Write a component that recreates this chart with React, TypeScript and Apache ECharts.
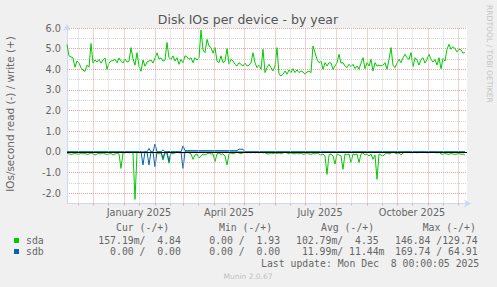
import React, { useEffect, useRef } from 'react';
import * as echarts from 'echarts';

// ---------- data ----------
const STEP_DAYS = 2; // one sample every 2 days, day 0 = 5 Nov 2024
const X_MAX_DAYS = 400;
const Y_MIN = -2.5;
const Y_MAX = 6.0;

const monthStartDays = [26, 57, 88, 116, 147, 177, 208, 238, 269, 300, 330, 361, 391];
const midMonthDays = [11, 41, 72, 103, 131, 162, 192, 223, 253, 284, 315, 345, 376];
const xLabelDays = [72, 162, 253, 345];
const xLabels = ['January 2025', 'April 2025', 'July 2025', 'October 2025'];

// sda writes (+)
const sdaWrite = [
  5.2, 4.65, 4.6, 4.55, 4.1, 4.4, 4.3, 4.08, 3.95, 3.9,
  4.2, 4.1, 5.25, 4.3, 4.45, 4.35, 4.48, 4.3, 4.45, 4.55,
  4.0, 4.3, 4.4, 4.42, 4.48, 4.32, 4.55, 4.4, 4.3, 4.5,
  4.35, 4.4, 5.05, 4.5, 4.2, 4.8, 4.15, 3.9, 4.45, 4.15,
  4.35, 4.4, 4.45, 4.3, 4.55, 4.8, 4.5, 4.55, 4.4, 4.45,
  5.3, 4.56, 4.48, 4.65, 4.4, 4.56, 4.24, 4.48, 4.32, 4.65,
  4.6, 4.48, 4.56, 4.32, 4.56, 4.45, 4.56, 5.9, 4.94, 4.81,
  5.45, 5.13, 5.05, 4.78, 5.05, 4.4, 4.32, 4.65, 4.32, 4.4,
  5.0, 4.25, 4.48, 4.4, 4.24, 4.16, 4.32, 4.24, 4.16, 4.3,
  4.16, 4.2, 4.32, 4.8, 4.32, 4.08, 4.2, 4.0, 4.97, 3.84,
  4.08, 4.24, 4.08, 3.92, 4.16, 5.05, 3.76, 3.68, 3.76, 3.92,
  3.76, 3.97, 3.84, 4.03, 3.84, 3.97, 3.84, 3.92, 3.87, 3.76,
  3.87, 3.92, 3.84, 5.13, 4.81, 4.48, 4.32, 4.4, 4.0, 4.32,
  4.16, 4.32, 4.3, 4.0, 4.16, 4.32, 4.73, 4.3, 4.32, 4.16,
  4.08, 4.24, 4.13, 4.24, 4.03, 4.16, 4.0, 4.3, 4.56, 4.03,
  4.32, 4.16, 4.48, 3.92, 4.32, 4.16, 4.2, 4.16, 4.2, 4.32,
  4.0, 4.48, 5.05, 4.2, 4.08, 4.3, 4.48, 4.32, 4.56, 4.73,
  4.56, 4.48, 4.81, 4.13, 4.56, 4.45, 4.2, 4.48, 4.56, 4.3,
  4.48, 4.73, 4.48, 4.35, 4.48, 4.2, 4.56, 4.03, 4.52, 4.4,
  4.97, 5.21, 4.97, 5.1, 5.0, 4.84, 4.97, 4.94, 4.78, 4.84,
];

// sda reads (-), stored as positive rates
const sdaRead = [
  0.05, 0.1, 0.12, 0.1, 0.08, 0.1, 0.12, 0.05, 0.1, 0.08,
  0.12, 0.1, 0.05, 0.1, 0.15, 0.1, 0.08, 0.1, 0.05, 0.1,
  0.12, 0.1, 0.08, 0.15, 0.1, 0.05, 0.1, 0.8, 0.05, 0.05,
  0, 0.05, 0.02, 0.05, 2.3, 0.05, 0, 0.02, 0.05, 0,
  0.05, 0.03, 0, 0.05, 0.02, 0.05, 0.1, 0.05, 0.4, 0.05,
  0.1, 0.55, 0.05, 0.1, 0.05, 0, 0.05, 0.02, 0.05, 0,
  0.02, 0.05, 0.1, 0.36, 0.15, 0.1, 0.3, 0.2, 0.1, 0.15,
  0.1, 0.05, 0.1, 0.1, 0.47, 0.1, 0.05, 0.12, 0.1, 0.2,
  0.63, 0.1, 0.05, 0.1, 0.05, 0.02, 0.05, 0.1, 0.05, 0,
  0.05, 0.02, 0.05, 0, 0.05, 0.02, 0.05, 0, 0.05, 0.03,
  0.1, 0.1, 0.05, 0.1, 0.05, 0.08, 0.05, 0.1, 0.05, 0.02,
  0.05, 0.1, 0.05, 0.08, 0.1, 0.05, 0.1, 0.05, 0.12, 0.1,
  0.05, 0.1, 0.12, 0.08, 0.1, 0.05, 0.1, 0.15, 0.1, 0.2,
  1.09, 0.15, 0.1, 0.2, 0.59, 0.1, 0.15, 0.2, 0.84, 0.1,
  0.15, 0.1, 0.52, 0.1, 0.15, 0.1, 0.52, 0.1, 0.05, 0.15,
  0.1, 0.2, 0.1, 0.36, 0.15, 1.33, 0.1, 0.15, 0.2, 0.1,
  0.05, 0.1, 0.05, 0.02, 0.05, 0.1, 0.05, 0.15, 0.05, 0.02,
  0, 0.02, 0.05, 0, 0.02, 0.05, 0, 0.03, 0, 0.02,
  0.05, 0, 0.02, 0, 0.03, 0.05, 0.02, 0.1, 0.12, 0.08,
  0.1, 0.12, 0.08, 0.1, 0.12, 0.1, 0.08, 0.12, 0.1, 0.16,
];

// sdb writes (+)
const sdbWrite = [
  0, 0, 0, 0, 0, 0, 0, 0, 0, 0,
  0, 0, 0, 0, 0, 0, 0, 0, 0, 0,
  0, 0, 0, 0, 0, 0, 0, 0, 0, 0,
  0, 0, 0, 0, 0, 0, 0, 0, 0, 0,
  0, 0.17, 0, 0, 0.38, 0, 0, 0, 0.1, 0,
  0, 0.02, 0, 0, 0, 0, 0, 0, 0.29, 0.06,
  0.06, 0.06, 0.06, 0.06, 0.06, 0.06, 0.06, 0.06, 0.06, 0.06,
  0.06, 0.06, 0.06, 0.06, 0.06, 0.06, 0.06, 0.06, 0.06, 0.06,
  0.06, 0.06, 0.06, 0.06, 0.06, 0.06, 0.13, 0.13, 0.13, 0,
  0, 0, 0, 0, 0, 0, 0, 0, 0, 0,
  0, 0, 0, 0, 0, 0, 0, 0, 0, 0,
  0, 0, 0, 0, 0, 0, 0, 0, 0, 0,
  0, 0, 0, 0, 0, 0, 0, 0, 0, 0,
  0, 0, 0, 0, 0, 0, 0, 0, 0, 0,
  0, 0, 0, 0, 0, 0, 0, 0, 0, 0,
  0, 0, 0, 0, 0, 0, 0, 0, 0, 0,
  0, 0, 0, 0, 0, 0, 0, 0, 0, 0,
  0, 0, 0, 0, 0, 0, 0, 0, 0, 0,
  0, 0, 0, 0, 0, 0, 0, 0, 0, 0,
  0, 0, 0, 0, 0, 0, 0, 0, 0, 0,
];

// sdb reads (-), stored as positive rates
const sdbRead = [
  0, 0, 0, 0, 0, 0, 0, 0, 0, 0,
  0, 0, 0, 0, 0, 0, 0, 0, 0, 0,
  0, 0, 0, 0, 0, 0, 0, 0, 0, 0,
  0, 0, 0, 0, 0, 0, 0, 0, 0.63, 0,
  0, 0.63, 0, 0, 0.72, 0, 0, 0, 0.31, 0,
  0, 0.47, 0, 0, 0, 0, 0, 0, 0.8, 0,
  0, 0, 0, 0, 0, 0, 0, 0, 0, 0,
  0, 0, 0, 0, 0, 0, 0, 0, 0, 0,
  0, 0, 0, 0, 0, 0, 0, 0, 0, 0,
  0, 0, 0, 0, 0, 0, 0, 0, 0, 0,
  0, 0, 0, 0, 0, 0, 0, 0, 0, 0,
  0, 0, 0, 0, 0, 0, 0, 0, 0, 0,
  0, 0, 0, 0, 0, 0, 0, 0, 0, 0,
  0, 0, 0, 0, 0, 0, 0, 0, 0, 0,
  0, 0, 0, 0, 0, 0, 0, 0, 0, 0,
  0, 0, 0, 0, 0, 0, 0, 0, 0, 0,
  0, 0, 0, 0, 0, 0, 0, 0, 0, 0,
  0, 0, 0, 0, 0, 0, 0, 0, 0, 0,
  0, 0, 0, 0, 0, 0, 0, 0, 0, 0,
  0, 0, 0, 0, 0, 0, 0, 0, 0, 0,
];

const statHeaders = ['Cur (-/+)', 'Min (-/+)', 'Avg (-/+)', 'Max (-/+)'];
const deviceNames = ['sda', 'sdb'];
const sdaStats = [['157.19m', '4.84'], ['0.00', '1.93'], ['102.79m', '4.35'], ['146.84', '129.74']];
const sdbStats = [['0.00', '0.00'], ['0.00', '0.00'], ['11.99m', '11.44m'], ['169.74', '64.91']];
const titleText = 'Disk IOs per device - by year';
const yAxisTitle = 'IOs/second read (-) / write (+)';
const lastUpdateText = 'Last update: Mon Dec  8 00:00:05 2025';
const watermarkText = 'RRDTOOL / TOBI OETIKER';
const versionText = 'Munin 2.0.67';

// ---------- styles ----------
const GREEN = '#00CC00';
const BLUE = '#0066B3';
const FONT = 'DejaVu Sans';
const MONO = 'DejaVu Sans Mono';
const TXT = '#666666';
const CW = 5.9; // monospace advance
const cellStarts = [98.3, 197.5, 296, 395];
const headerStarts = [116, 219, 321, 422.7];

function padCell(s: string) {
  const m = s.endsWith('m');
  const num = m ? s.slice(0, -1) : s;
  return num.padStart(6, ' ') + (m ? 'm' : ' ');
}
function cellText(pair: string[]) {
  const full = (padCell(pair[0]) + '/' + padCell(pair[1])).replace(/\s+$/, '');
  const trimmed = full.replace(/^\s+/, '');
  return { text: trimmed, lead: full.length - trimmed.length };
}

const toPoints = (arr: number[], sign: number) => arr.map((v, i) => [i * STEP_DAYS, sign * v]);

export default function App() {
  const ref = useRef<HTMLDivElement>(null);
  useEffect(() => {
    if (!ref.current) return;
    const chart = echarts.init(ref.current, undefined, { renderer: 'svg' });

    const graphics: any[] = [];
    const txt = (x: number, y: number, text: string, o: any = {}) => ({
      type: 'text', x, y, rotation: o.rotation || 0, silent: true,
      style: {
        text, fill: o.fill || TXT, fontSize: o.fontSize || 9.8, fontFamily: o.fontFamily || MONO,
        align: o.align || 'left', verticalAlign: 'middle',
      },
    });
    graphics.push(txt(248, 19, titleText, { align: 'center', fontSize: 12.5, fontFamily: FONT, fill: '#555555' }));
    graphics.push(txt(10, 114, yAxisTitle, { align: 'center', fontSize: 10.4, fontFamily: FONT, rotation: Math.PI / 2 }));
    graphics.push(txt(489, 5, watermarkText, { fontSize: 7.6, fontFamily: FONT, fill: '#c4c4c4', rotation: -Math.PI / 2 }));
    statHeaders.forEach((h, i) => graphics.push(txt(headerStarts[i], 227.5, h)));
    const rows = [
      { name: deviceNames[0], color: GREEN, stats: sdaStats, y: 240 },
      { name: deviceNames[1], color: BLUE, stats: sdbStats, y: 251.7 },
    ];
    rows.forEach((r) => {
      graphics.push({ type: 'rect', silent: true, shape: { x: 14, y: Math.round(r.y - 2.3), width: 5, height: 5 }, style: { fill: r.color } });
      graphics.push(txt(26, r.y, r.name));
      r.stats.forEach((pair, i) => {
        const c = cellText(pair);
        graphics.push(txt(cellStarts[i] + c.lead * CW, r.y, c.text));
      });
    });
    graphics.push(txt(261, 263.5, lastUpdateText));
    graphics.push(txt(248, 276, versionText, { align: 'center', fontSize: 7.5, fontFamily: FONT, fill: '#c0c0c0' }));

    const gridLines = [
      ...midMonthDays.map((d) => ({ xAxis: d, lineStyle: { color: '#D4D4D4', type: [1, 1], width: 1 } })),
      ...monthStartDays.map((d) => ({ xAxis: d, lineStyle: { color: '#E8A0A0', type: [1, 1], width: 1 } })),
    ];

    const lineSeries = (name: string, data: number[][], color: string, z: number) => ({
      name, type: 'line', data, showSymbol: false, symbol: 'none', silent: true, z,
      lineStyle: { color, width: 1 }, itemStyle: { color }, emphasis: { disabled: true },
    });

    chart.setOption({
      animation: false,
      backgroundColor: '#F0F0F0',
      textStyle: { fontFamily: FONT },
      grid: {
        left: 67, right: 30, top: 28, height: 175.5, show: true, backgroundColor: '#FFFFFF',
        borderWidth: 0, containLabel: false, outerBoundsMode: 'none',
      },
      xAxis: {
        type: 'value', min: 0, max: X_MAX_DAYS,
        axisLine: {
          show: true, onZero: false, lineStyle: { color: '#CFD6F8', width: 1 },
          symbol: ['none', 'arrow'], symbolSize: [6, 7], symbolOffset: [0, 4],
        },
        axisTick: {
          show: true, customValues: [...midMonthDays, ...monthStartDays].sort((a, b) => a - b),
          length: 2, lineStyle: { color: '#E0B0B0' },
        },
        axisLabel: {
          customValues: xLabelDays,
          formatter: (v: number) => xLabels[xLabelDays.indexOf(v)] ?? '',
          fontSize: 9.7, color: TXT, fontFamily: FONT, margin: 4,
        },
        splitLine: { show: false },
      },
      yAxis: {
        type: 'value', min: Y_MIN, max: Y_MAX, interval: 0.5,
        axisLine: {
          show: true, onZero: false, lineStyle: { color: '#CFD6F8', width: 1 },
          symbol: ['none', 'arrow'], symbolSize: [6, 7], symbolOffset: [0, 4],
        },
        axisTick: { show: false },
        axisLabel: {
          formatter: (v: number) => (Math.abs(v - Math.round(v)) < 1e-9 ? v.toFixed(1) : ''),
          fontSize: 9.7, color: TXT, fontFamily: FONT, margin: 6,
        },
        splitLine: { show: true, lineStyle: { color: ['#D4D4D4', '#E8A0A0'], type: [1, 1], width: 1 } },
      },
      graphic: graphics,
      series: [
        {
          type: 'line', data: [], silent: true, z: 1,
          markLine: { symbol: ['none', 'none'], silent: true, label: { show: false }, animation: false, data: gridLines },
        },
        lineSeries('sda read', toPoints(sdaRead, -1), GREEN, 2),
        lineSeries('sda write', toPoints(sdaWrite, 1), GREEN, 2),
        lineSeries('sdb read', toPoints(sdbRead, -1), BLUE, 3),
        lineSeries('sdb write', toPoints(sdbWrite, 1), BLUE, 3),
        {
          type: 'line', data: [], silent: true, z: 4,
          markLine: {
            symbol: ['none', 'none'], silent: true, label: { show: false }, animation: false,
            data: [{ yAxis: 0 }], lineStyle: { color: '#000000', width: 1, type: 'solid' },
          },
        },
      ],
    });
    return () => chart.dispose();
  }, []);

  return (
    <>
      <style>{'svg text, svg tspan { white-space: pre; }'}</style>
      <div ref={ref} style={{ position: 'absolute', left: 0, top: 0, width: 497, height: 287 }} />
    </>
  );
}
